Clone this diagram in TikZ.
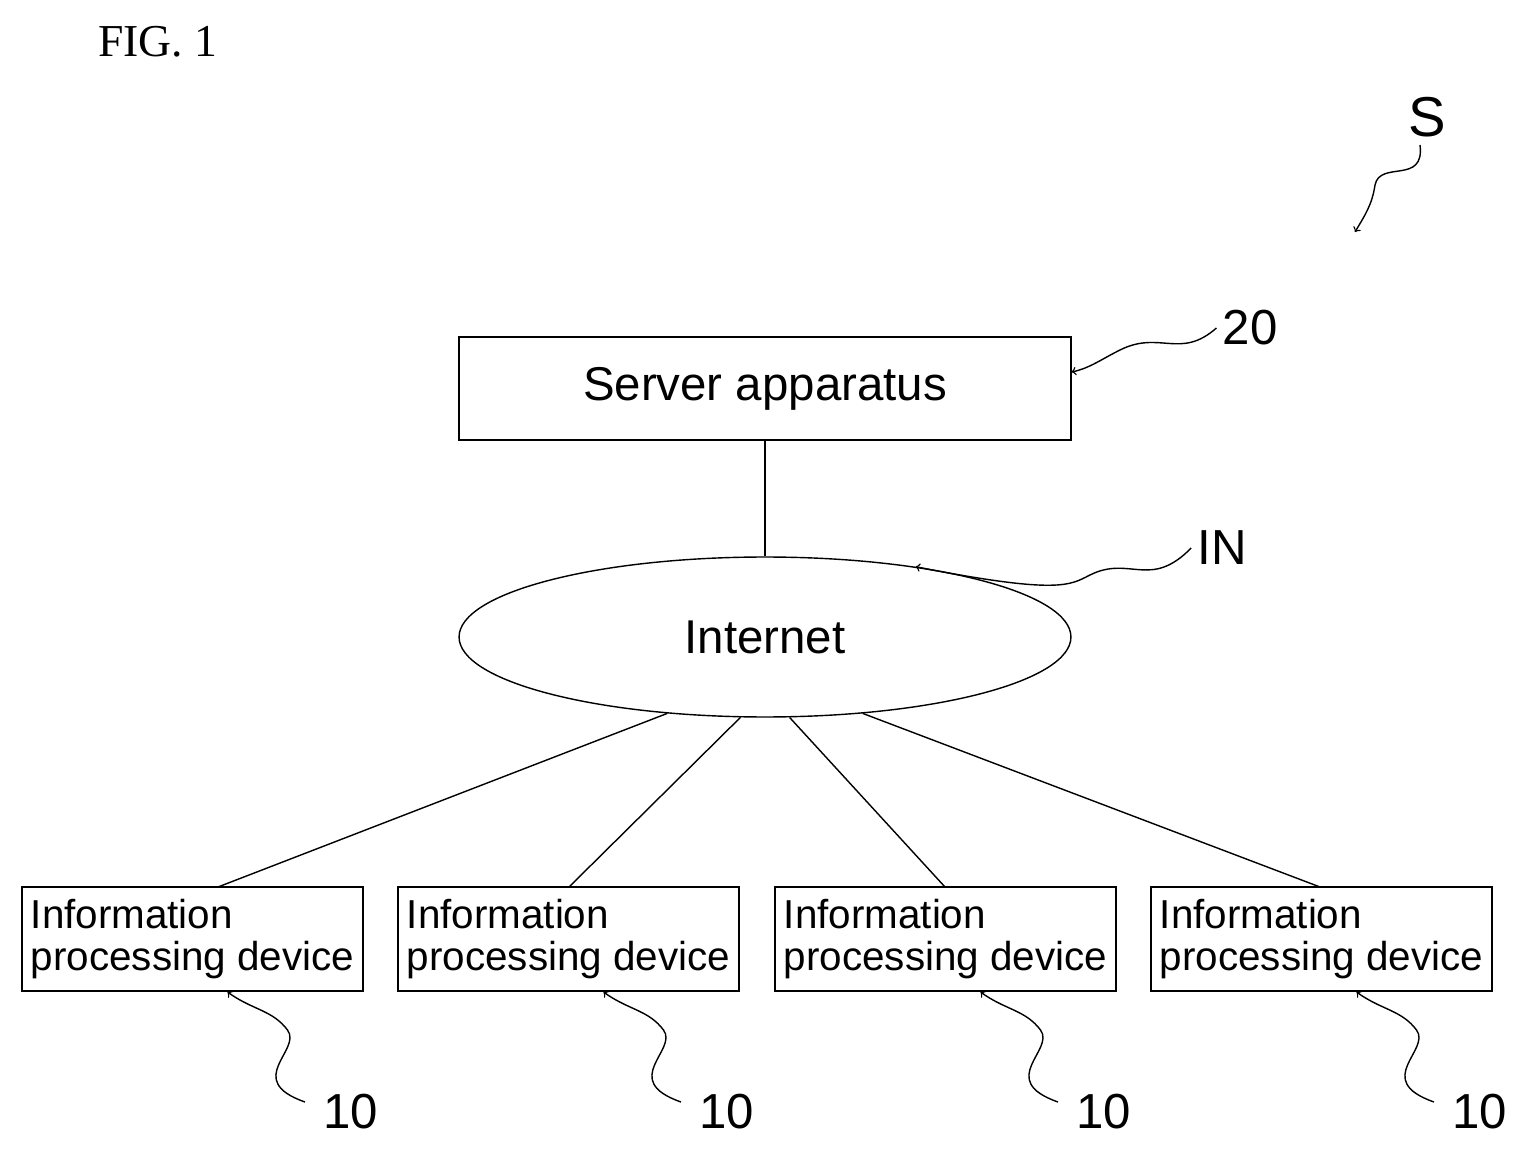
\documentclass[tikz,border=0pt]{standalone}
\usepackage{fontspec}
\setmainfont{Liberation Sans}
\newfontfamily\figfont{Liberation Serif}
\usetikzlibrary{shapes,positioning,calc}

\begin{document}
\begin{tikzpicture}[x=0.02cm,y=-0.02cm,
    box/.style={draw,thick,minimum width=12.24cm,minimum height=2.06cm},
    dev/.style={draw,thick,minimum width=6.82cm,minimum height=2.08cm,align=left,font=\fontsize{23}{24}\selectfont,inner sep=2pt},
    lead/.style={thick,->},
    num/.style={font=\fontsize{28}{30}\selectfont}]
			% Bounding area
			\useasboundingbox (0,0) rectangle (1524,1151);
			\node[font=\figfont\fontsize{26}{28}\selectfont] (fig) at (158,42) {FIG. 1};
			
			% Server and network
			\node[box,font=\fontsize{27}{29}\selectfont] (srv) at (765,388.5) {Server apparatus};
			\node[draw,thick,ellipse,minimum width=12.24cm,minimum height=3.2cm,inner sep=0pt,font=\fontsize{27}{29}\selectfont] (inet) at (765,637) {Internet};
			\draw[thick] (srv.south) -- (inet.north);
			
			% Information processing devices
			\foreach \i/\cx/\ea/\lx in {1/192.5/-142/218, 2/568.5/-107/569, 3/945.5/-73/945, 4/1321.5/-38/1320}{
				\node[dev,anchor=center] (dev\i) at (\cx,939) {Information\\processing device};
				\coordinate (top\i) at (\lx,887);
				\draw[thick] (inet.\ea) -- (top\i);
				\node[num] (n\i) at (\cx+158,1112) {10};
				\coordinate (tip\i) at (\cx+35,992);
				\draw[lead] ($(n\i.west)+(-12,-10)$) .. controls (\cx+50,1080) and (\cx+110,1050) .. (\cx+95,1030)
					.. controls (\cx+80,1010) and (\cx+60,1010) .. (tip\i);
			}
			
			% Reference labels
			\node[num] (l20) at (1250,328) {20};
			\draw[lead] (l20.west) .. controls (1180,360) and (1160,330) .. (1120,350)
				.. controls (1100,360) and (1090,368) .. (srv.north east |- 0,372);
			\node[num] (lIN) at (1222,548) {IN};
			\draw[lead] (lIN.west) .. controls (1150,590) and (1130,555) .. (1090,575)
				.. controls (1070,585) and (1060,595) .. (inet.25);
			\node[num,font=\fontsize{32}{34}\selectfont] (lS) at (1427,117) {S};
			\draw[lead] (1420,145) .. controls (1425,185) and (1380,160) .. (1375,185)
				.. controls (1372,205) and (1365,215) .. (1355,232);
		\end{tikzpicture}
\end{document}
